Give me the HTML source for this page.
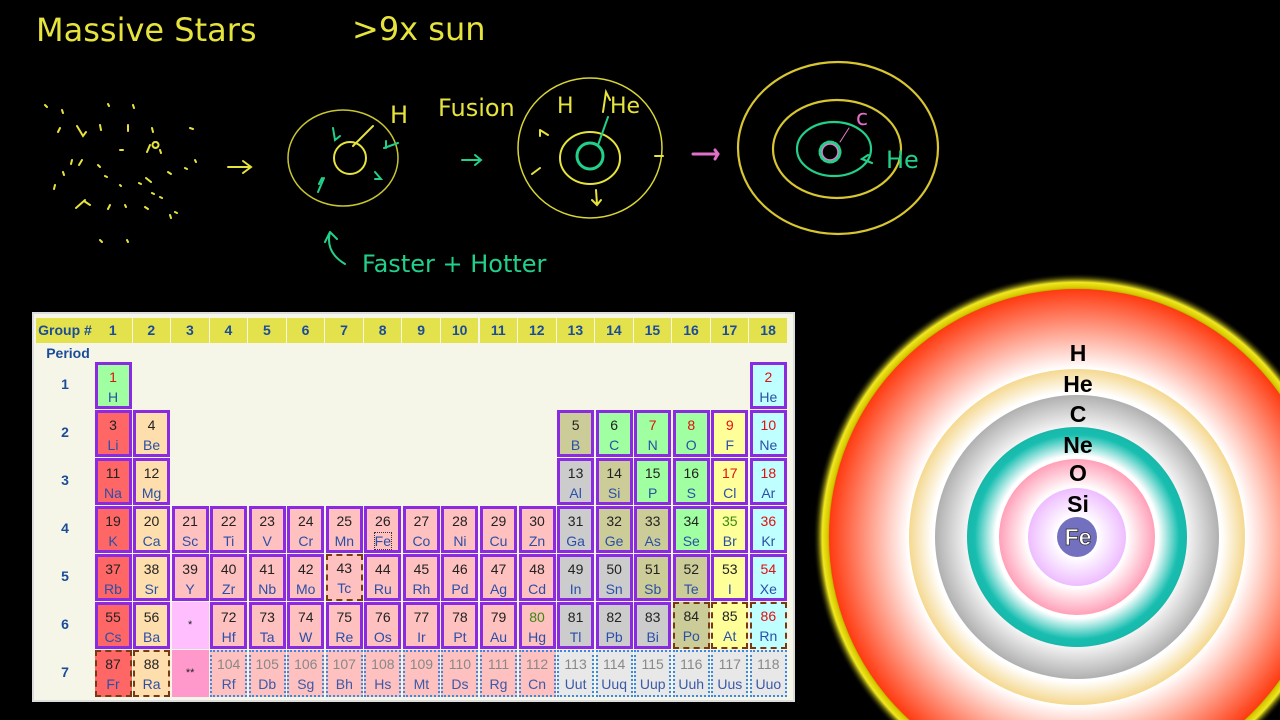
<!DOCTYPE html>
<html><head><meta charset="utf-8">
<style>
html,body{margin:0;padding:0;background:#000;width:1280px;height:720px;overflow:hidden;position:relative;font-family:"Liberation Sans",sans-serif}
#sketch{position:absolute;left:0;top:0}
#table{position:absolute;left:32px;top:312px;width:763px;height:390px;background:#f6f6e8;border:2px solid #ddd;box-sizing:border-box;overflow:hidden}
.hdr{position:absolute;top:4px;height:25px;background:#e4e24c;font-weight:bold;color:#1a4c9a;font-size:14px;line-height:25px;text-align:center}
.cell{position:absolute;box-sizing:border-box;text-align:center;font-size:14px;line-height:20px;padding-top:2px}
.cell .n{display:block;color:#222}
.cell .s{display:block;color:#2a4fa8}
.rowlbl{position:absolute;left:0;width:62px;text-align:center;font-weight:bold;color:#1a4c9a;font-size:14px}
#star{position:absolute;left:0;top:0}
</style></head><body>
<svg id="sketch" width="1280" height="310" viewBox="0 0 1280 310" fill="none" stroke-linecap="round">
 <g font-family="DejaVu Sans, sans-serif" fill="#e6e43c">
  <text x="36" y="41" font-size="32">Massive Stars</text>
  <text x="352" y="40" font-size="32">&gt;9x sun</text>
 </g>
 <g stroke="#e6e43c" stroke-width="2">
  <path d="M45 105l2 2M62 110l1 3M108 104l1 2M133 105l1 3M60 128l-2 4M77 126l6 10 3-4M100 125l1 5M128 125l0 6M152 128l1 4M150 145l-3 7M155 142a3 3 0 1 0 1 0M72 160l-1 4M63 172l1 3M82 160l-3 5M98 165l2 2M105 176l2 1M146 178l5 4M152 193l2 1M160 197l2 1M139 183l2 1M168 172l3 2M185 168l2 1M195 160l1 2M55 185l-1 4M85 200l-9 8M90 205l-6-4M110 205l-2 4M120 185l1 1M125 205l1 2M100 240l2 2M127 240l1 2M175 212l2 1M145 207l3 2M170 215l1 3M160 150l1 3M120 150l3 0M190 128l3 1"/>
  <path d="M228 167h22M243 161l8 6-8 6"/>
 </g>
 <g stroke-width="2">
  <ellipse cx="343" cy="158" rx="55" ry="48" stroke="#c8c630" stroke-width="1.5"/>
  <circle cx="350" cy="158" r="16" stroke="#e6e43c"/>
  <path d="M353 146l20-20" stroke="#e6e43c"/>
  <path d="M333 128l2 12 5-4M384 148l14-5M386 148l0-7M375 172l6 7-6 0M324 178l-6 14M322 178l-3 6" stroke="#22d08a"/>
  <path d="M462 160h18M475 155l6 5-6 5" stroke="#22d08a"/>
  <path d="M330 232q-5 20 15 32M330 232l-5 10M330 232l7 7" stroke="#22d08a"/>
 </g>
 <g stroke-width="2">
  <ellipse cx="590" cy="148" rx="72" ry="70" stroke="#d8d636" stroke-width="1.5"/>
  <ellipse cx="590" cy="158" rx="30" ry="26" stroke="#e6e43c"/>
  <circle cx="590" cy="156" r="13" stroke="#22d08a" stroke-width="3"/>
  <path d="M598 145l10-28" stroke="#22d08a"/>
  <path d="M603 112l3-20 4 8M540 130l8 5M540 130l0 6M540 168l-8 6M596 190l1 14M592 200l5 5 4-5M655 156l8 0" stroke="#e6e43c"/>
 </g>
 <g stroke-width="2.2">
  <ellipse cx="838" cy="148" rx="100" ry="86" stroke="#d8c630"/>
  <ellipse cx="837" cy="149" rx="64" ry="49" stroke="#d8c630"/>
  <ellipse cx="834" cy="149" rx="37" ry="27" stroke="#22d08a"/>
  <circle cx="830" cy="152" r="10" stroke="#22d08a" stroke-dasharray="2 2" stroke-width="3"/>
  <circle cx="830" cy="152" r="8" stroke="#e080d0" stroke-width="1.5"/>
  <path d="M849 128l-9 14" stroke="#e080d0" stroke-width="1"/>
  <path d="M693 154h22M715 150l3 4-3 5" stroke="#e070c8" stroke-width="3"/>
  <path d="M872 163l-10-4 6-4" stroke="#22d08a"/>
 </g>
 <g font-family="DejaVu Sans, sans-serif" font-size="24">
  <text x="390" y="123" fill="#e6e43c">H</text>
  <text x="438" y="116" fill="#e6e43c">Fusion</text>
  <text x="557" y="113" fill="#e6e43c" font-size="22">H</text>
  <text x="610" y="113" fill="#e6e43c" font-size="22">He</text>
  <text x="856" y="125" fill="#e070c8" font-size="22">c</text>
  <text x="886" y="168" fill="#22d08a" font-size="24">He</text>
  <text x="362" y="272" fill="#22d08a" font-size="24">Faster + Hotter</text>
 </g>
</svg>

<svg id="star" width="1280" height="720" viewBox="0 0 1280 720" style="pointer-events:none">
 <defs>
  <radialGradient id="glow"><stop offset="0.9" stop-color="#c8b800" stop-opacity="0"/><stop offset="0.945" stop-color="#d8c800"/><stop offset="0.965" stop-color="#f0e820"/><stop offset="1" stop-color="#000" stop-opacity="0"/></radialGradient>
  <radialGradient id="g-red"><stop offset="0.68" stop-color="#fff"/><stop offset="1" stop-color="#ff3a10"/></radialGradient>
  <radialGradient id="g-cream"><stop offset="0.86" stop-color="#fff"/><stop offset="1" stop-color="#f5d890"/></radialGradient>
  <radialGradient id="g-gray"><stop offset="0.74" stop-color="#fff"/><stop offset="1" stop-color="#b0b0b0"/></radialGradient>
  <radialGradient id="g-teal"><stop offset="0.74" stop-color="#fff"/><stop offset="0.93" stop-color="#18beb0"/><stop offset="1" stop-color="#18b8aa"/></radialGradient>
  <radialGradient id="g-pink"><stop offset="0.64" stop-color="#fff"/><stop offset="1" stop-color="#ffa0b8"/></radialGradient>
  <radialGradient id="g-lav"><stop offset="0.42" stop-color="#fff"/><stop offset="1" stop-color="#eebcff"/></radialGradient>
 </defs>
 <circle cx="1077" cy="537" r="264" fill="url(#glow)"/>
 <circle cx="1077" cy="537" r="248" fill="url(#g-red)"/>
 <circle cx="1077" cy="537" r="168" fill="url(#g-cream)"/>
 <circle cx="1077" cy="537" r="142" fill="url(#g-gray)"/>
 <circle cx="1077" cy="537" r="110" fill="url(#g-teal)"/>
 <circle cx="1077" cy="537" r="78" fill="url(#g-pink)"/>
 <circle cx="1077" cy="537" r="49" fill="url(#g-lav)"/>
 <circle cx="1077" cy="537" r="20" fill="#7470c0"/>
 <g font-family="Liberation Sans, sans-serif" font-weight="bold" font-size="23" text-anchor="middle" fill="#000">
  <text x="1078" y="361">H</text>
  <text x="1078" y="392">He</text>
  <text x="1078" y="422">C</text>
  <text x="1078" y="453">Ne</text>
  <text x="1078" y="481">O</text>
  <text x="1078" y="512">Si</text>
  <text x="1078" y="545" fill="#fff" stroke="#333" stroke-width="0.8">Fe</text>
 </g>
</svg>

<div id="table"></div>

<script>
const groups=[1,2,3,4,5,6,7,8,9,10,11,12,13,14,15,16,17,18];
const periods=[1,2,3,4,5,6,7];
// [Z, symbol, group, period, category, numberColor, border]
const elements=[
[1,'H',1,1,'nm','r','s'],[2,'He',18,1,'ng','r','s'],
[3,'Li',1,2,'am','k','s'],[4,'Be',2,2,'ae','k','s'],[5,'B',13,2,'md','k','s'],[6,'C',14,2,'nm','k','s'],[7,'N',15,2,'nm','r','s'],[8,'O',16,2,'nm','r','s'],[9,'F',17,2,'ha','r','s'],[10,'Ne',18,2,'ng','r','s'],
[11,'Na',1,3,'am','k','s'],[12,'Mg',2,3,'ae','k','s'],[13,'Al',13,3,'pm','k','s'],[14,'Si',14,3,'md','k','s'],[15,'P',15,3,'nm','k','s'],[16,'S',16,3,'nm','k','s'],[17,'Cl',17,3,'ha','r','s'],[18,'Ar',18,3,'ng','r','s'],
[19,'K',1,4,'am','k','s'],[20,'Ca',2,4,'ae','k','s'],[21,'Sc',3,4,'tm','k','s'],[22,'Ti',4,4,'tm','k','s'],[23,'V',5,4,'tm','k','s'],[24,'Cr',6,4,'tm','k','s'],[25,'Mn',7,4,'tm','k','s'],[26,'Fe',8,4,'tm','k','s'],[27,'Co',9,4,'tm','k','s'],[28,'Ni',10,4,'tm','k','s'],[29,'Cu',11,4,'tm','k','s'],[30,'Zn',12,4,'tm','k','s'],[31,'Ga',13,4,'pm','k','s'],[32,'Ge',14,4,'md','k','s'],[33,'As',15,4,'md','k','s'],[34,'Se',16,4,'nm','k','s'],[35,'Br',17,4,'ha','g','s'],[36,'Kr',18,4,'ng','r','s'],
[37,'Rb',1,5,'am','k','s'],[38,'Sr',2,5,'ae','k','s'],[39,'Y',3,5,'tm','k','s'],[40,'Zr',4,5,'tm','k','s'],[41,'Nb',5,5,'tm','k','s'],[42,'Mo',6,5,'tm','k','s'],[43,'Tc',7,5,'tm','k','d'],[44,'Ru',8,5,'tm','k','s'],[45,'Rh',9,5,'tm','k','s'],[46,'Pd',10,5,'tm','k','s'],[47,'Ag',11,5,'tm','k','s'],[48,'Cd',12,5,'tm','k','s'],[49,'In',13,5,'pm','k','s'],[50,'Sn',14,5,'pm','k','s'],[51,'Sb',15,5,'md','k','s'],[52,'Te',16,5,'md','k','s'],[53,'I',17,5,'ha','k','s'],[54,'Xe',18,5,'ng','r','s'],
[55,'Cs',1,6,'am','k','s'],[56,'Ba',2,6,'ae','k','s'],['*','',3,6,'la','k','n'],[72,'Hf',4,6,'tm','k','s'],[73,'Ta',5,6,'tm','k','s'],[74,'W',6,6,'tm','k','s'],[75,'Re',7,6,'tm','k','s'],[76,'Os',8,6,'tm','k','s'],[77,'Ir',9,6,'tm','k','s'],[78,'Pt',10,6,'tm','k','s'],[79,'Au',11,6,'tm','k','s'],[80,'Hg',12,6,'tm','g','s'],[81,'Tl',13,6,'pm','k','s'],[82,'Pb',14,6,'pm','k','s'],[83,'Bi',15,6,'pm','k','s'],[84,'Po',16,6,'md','k','d'],[85,'At',17,6,'ha','k','d'],[86,'Rn',18,6,'ng','r','d'],
[87,'Fr',1,7,'am','k','d'],[88,'Ra',2,7,'ae','k','d'],['**','',3,7,'ac','k','n'],[104,'Rf',4,7,'tm','y','o'],[105,'Db',5,7,'tm','y','o'],[106,'Sg',6,7,'tm','y','o'],[107,'Bh',7,7,'tm','y','o'],[108,'Hs',8,7,'tm','y','o'],[109,'Mt',9,7,'tm','y','o'],[110,'Ds',10,7,'tm','y','o'],[111,'Rg',11,7,'tm','y','o'],[112,'Cn',12,7,'tm','y','o'],[113,'Uut',13,7,'un','y','o'],[114,'Uuq',14,7,'un','y','o'],[115,'Uup',15,7,'un','y','o'],[116,'Uuh',16,7,'un','y','o'],[117,'Uus',17,7,'un','y','o'],[118,'Uuo',18,7,'un','y','o']
];
const catColor={nm:'#a0ffa0',ng:'#c0ffff',am:'#ff6666',ae:'#ffdead',md:'#cccc99',ha:'#ffff99',pm:'#cccccc',tm:'#ffc0c0',la:'#ffbfff',ac:'#ff99cc',un:'#e8e8e8'};
const numColor={r:'#e01010',k:'#222',g:'#3a8a10',y:'#888'};
const T=document.getElementById('table');
const colX=g=>60+(g-1)*38.55;
const rowY=p=>48+(p-1)*48;
const h0=document.createElement('div');h0.className='hdr';h0.style.left='2px';h0.style.width='58px';h0.textContent='Group #';


T.appendChild(h0);
groups.forEach(g=>{const d=document.createElement('div');d.className='hdr';d.style.left=colX(g)+'px';d.style.width='37.5px';d.textContent=g;


T.appendChild(d);});
const ph=document.createElement('div');ph.className='rowlbl';ph.style.top='30px';ph.style.lineHeight='18px';ph.textContent='Period';ph.style.left='3px';


T.appendChild(ph);
periods.forEach(p=>{const d=document.createElement('div');d.className='rowlbl';d.style.top=(rowY(p)+14)+'px';d.textContent=p;


T.appendChild(d);});
elements.forEach(e=>{
 const [z,sym,g,p,cat,nc,b]=e;
 const d=document.createElement('div');d.className='cell';
 d.style.left=(colX(g)+0.5)+'px';d.style.top=rowY(p)+'px';d.style.width='37px';d.style.height='47px';
 d.style.background=catColor[cat];
 if(b==='s')d.style.border='3px solid #8a2be2';
 else if(b==='d')d.style.border='2px dashed #7a3a10';
 else if(b==='o')d.style.border='2px dotted #3a8ae0';
 if(b==='n'){d.style.paddingTop='13px';}
 const s1=document.createElement('span');s1.className='n';s1.textContent=z;s1.style.color=numColor[nc];
 if(b==='n')s1.style.fontSize='11px';
 d.appendChild(s1);
 if(sym){const s2=document.createElement('span');s2.className='s';s2.textContent=sym;if(nc==='y')s2.style.color='#3a5aa8';
  if(sym==='Fe'){s2.style.outline='1px dotted #333';s2.style.display='inline-block';s2.style.lineHeight='16px';s2.style.marginTop='2px';}
  d.appendChild(s2);}
 
 
 T.appendChild(d);
});
</script>
</body></html>
